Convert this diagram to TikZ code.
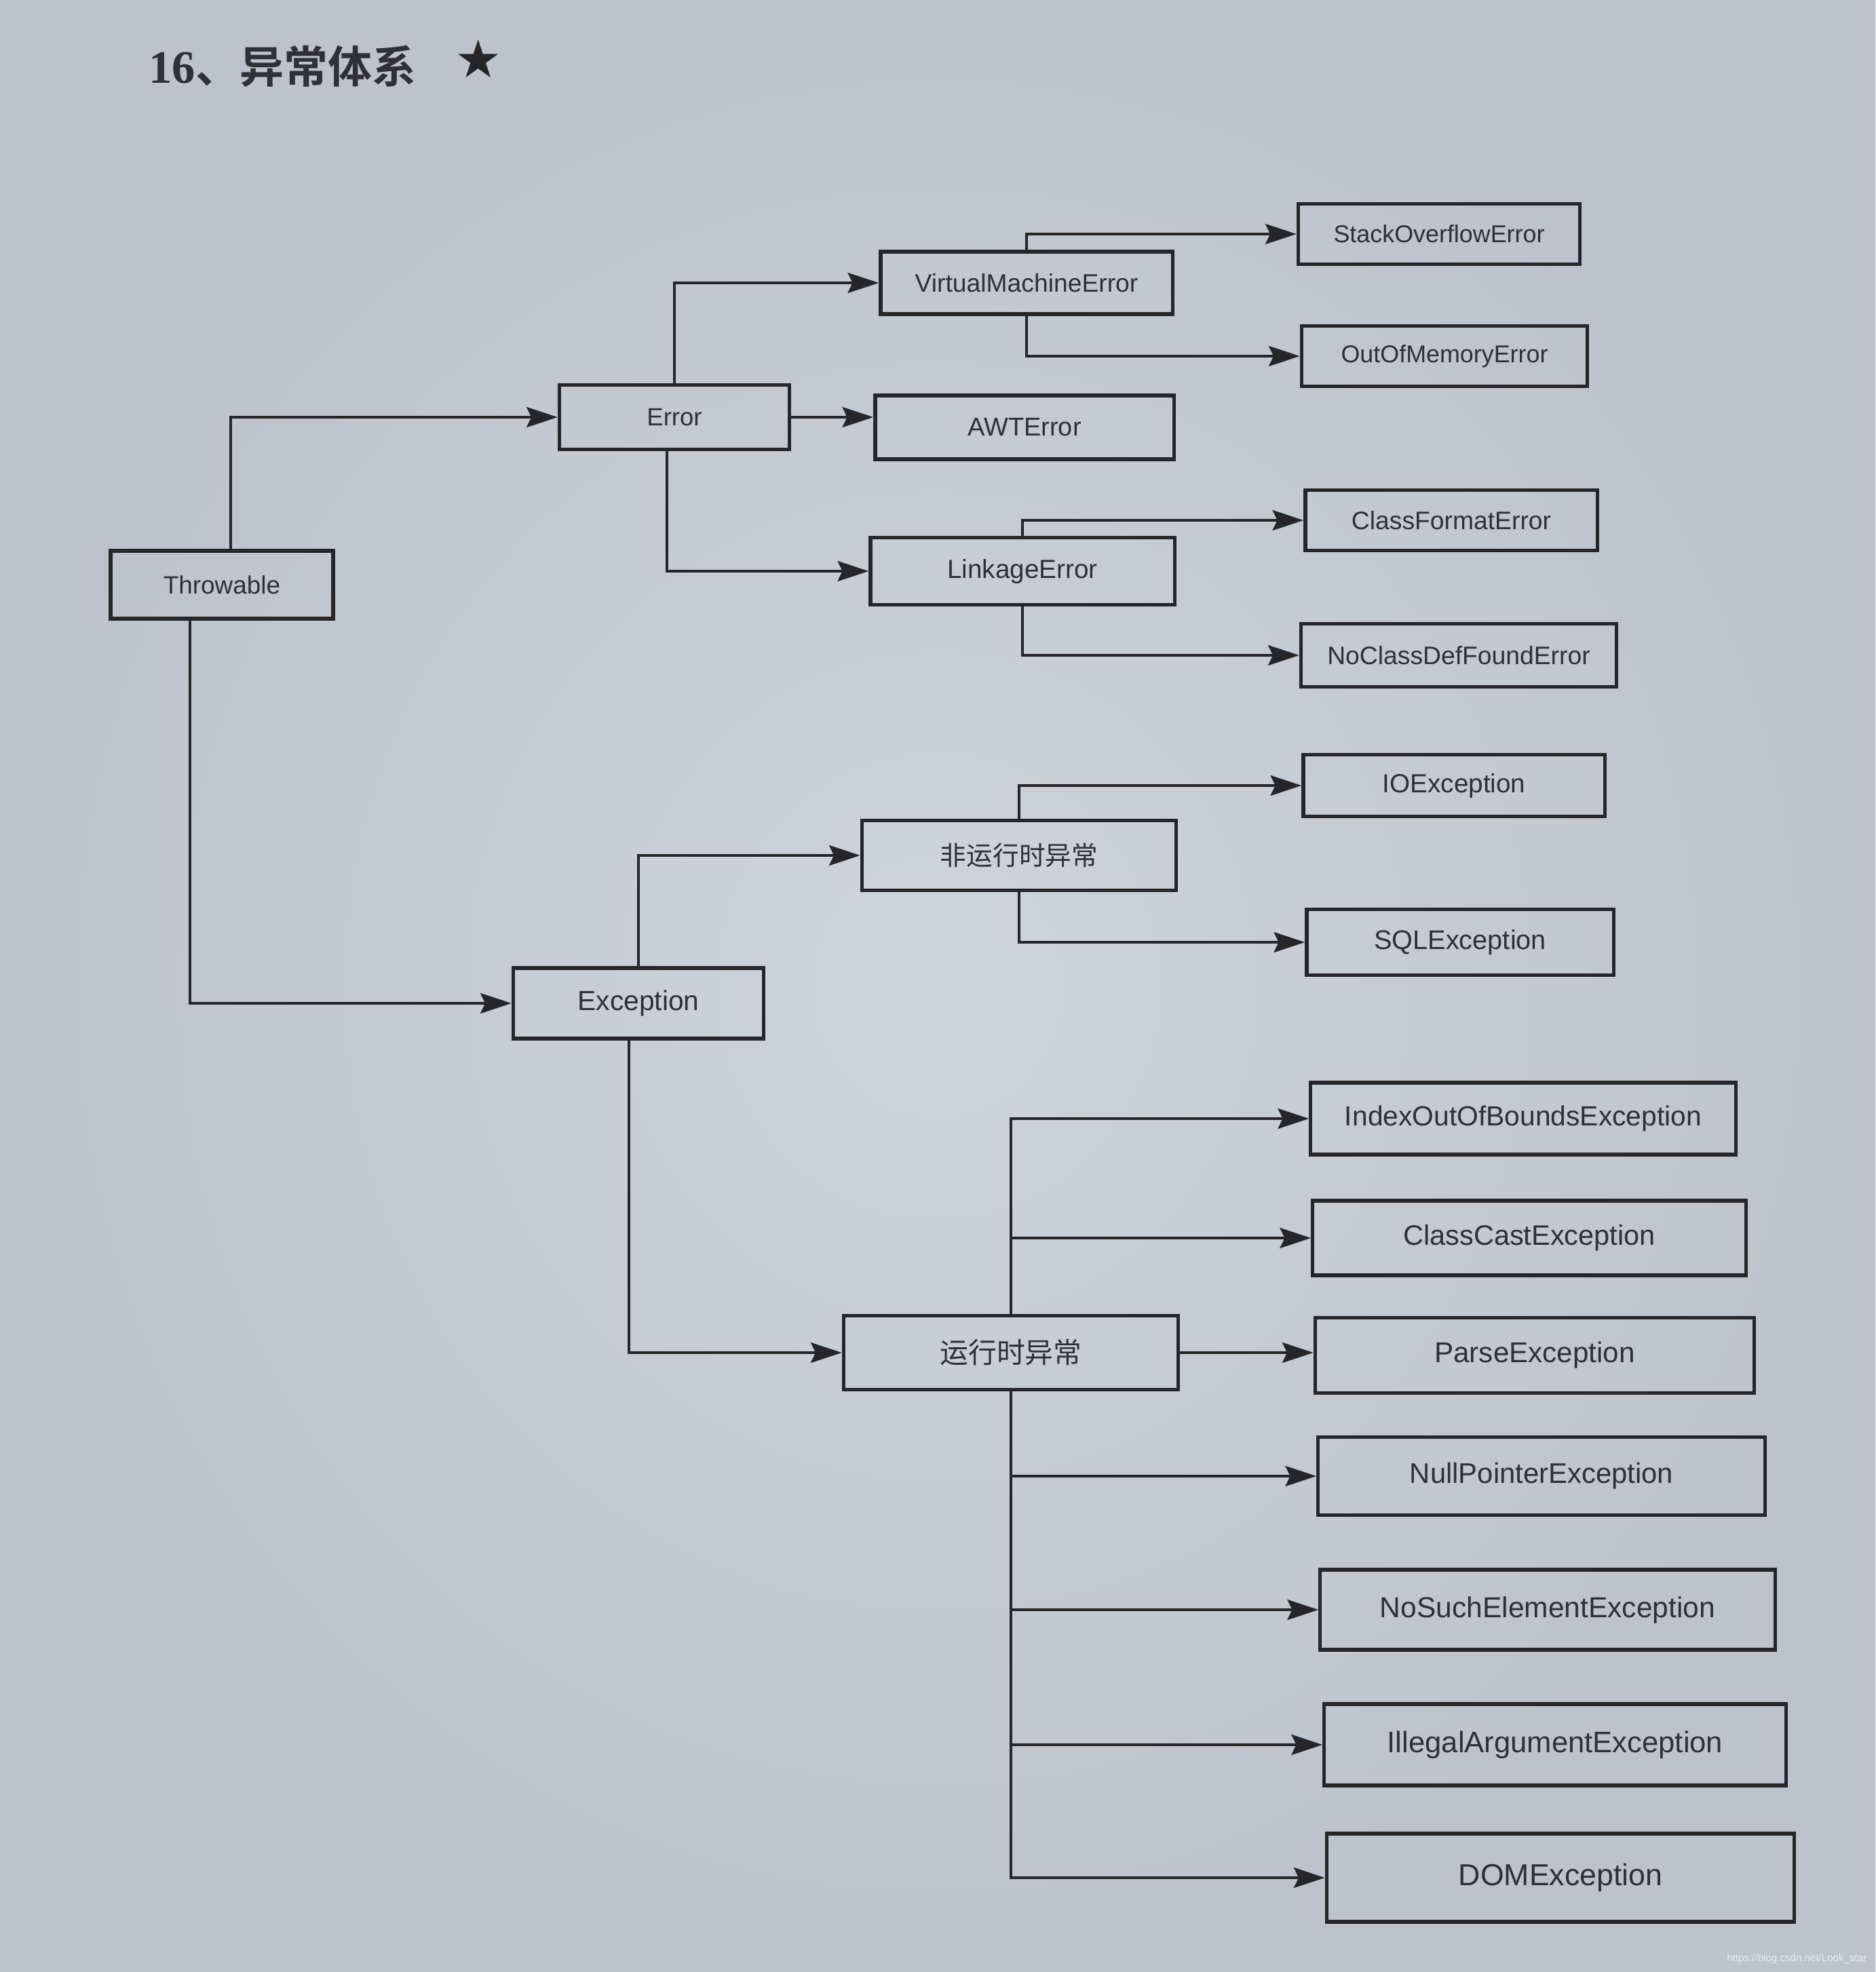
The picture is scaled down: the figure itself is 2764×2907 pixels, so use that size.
\documentclass[tikz,border=0pt]{standalone}
\usepackage{fontspec}
\setmainfont{Liberation Sans}
\newfontfamily\cjk{Noto Sans CJK SC}
\newfontfamily\cjkb{Noto Sans CJK SC Bold}
\newfontfamily\titleserif{Liberation Serif}
\newfontfamily\symf{DejaVu Sans}
\usetikzlibrary{arrows.meta}
\definecolor{paperin}{RGB}{208,212,219}
\definecolor{paperout}{RGB}{189,194,204}
\definecolor{ink}{RGB}{38,38,42}
\definecolor{txt}{RGB}{48,48,54}
\definecolor{wm}{RGB}{232,236,242}
\begin{document}
\begin{tikzpicture}[x=0.01cm,y=-0.01cm,
  box/.style={draw=ink,line width=1.5pt,inner sep=0pt,text=txt},
  fs/.style={font=\fontsize{#1}{#1}\selectfont},
  conn/.style={draw=ink,line width=1.1pt,-{Stealth[length=13pt,width=8.5pt,inset=2pt]}}]
\shade[inner color=paperin,outer color=paperout] (0,0) rectangle (2764,2907);
\useasboundingbox (0,0) rectangle (2764,2907);

% title
\node[anchor=west,text=txt,inner sep=0pt] (title) at (219,98)
  {{\titleserif\bfseries\fontsize{19.5}{20}\selectfont 16}{\cjkb\fontsize{18.5}{20}\selectfont 、异常体系}};
\node[text=ink,inner sep=0pt] (star) at (705,87) {\symf\fontsize{22}{22}\selectfont ★};

% nodes
\node[box,fs=10.5,minimum width=3.28cm,minimum height=1.00cm] (thr) at (327,862) {Throwable};
\node[box,fs=10.4,minimum width=3.39cm,minimum height=0.95cm] (err) at (994,615) {Error};
\node[box,fs=10.6,minimum width=4.30cm,minimum height=0.92cm] (vme) at (1513,417) {VirtualMachineError};
\node[box,fs=10.8,minimum width=4.40cm,minimum height=0.94cm] (awt) at (1510,630) {AWTError};
\node[box,fs=11,minimum width=4.48cm,minimum height=0.99cm] (lnk) at (1507,842) {LinkageError};
\node[box,fs=10.2,minimum width=4.15cm,minimum height=0.89cm] (soe) at (2121,345) {StackOverflowError};
\node[box,fs=10.2,minimum width=4.21cm,minimum height=0.89cm] (oom) at (2129,525) {OutOfMemoryError};
\node[box,fs=10.6,minimum width=4.30cm,minimum height=0.89cm] (cfe) at (2139,767) {ClassFormatError};
\node[box,fs=10.6,minimum width=4.65cm,minimum height=0.93cm] (ncd) at (2150,966) {NoClassDefFoundError};
\node[box,fs=11,minimum width=4.44cm,minimum height=0.91cm] (ioe) at (2143,1158) {IOException};
\node[box,fs=11,minimum width=4.63cm,minimum height=1.03cm] (non) at (1502,1261) {\cjk 非运行时异常};
\node[box,fs=11.3,minimum width=4.52cm,minimum height=0.97cm] (sql) at (2152,1389) {SQLException};
\node[box,fs=11.6,minimum width=3.69cm,minimum height=1.04cm] (exc) at (941,1479) {Exception};
\node[box,fs=11.6,minimum width=6.26cm,minimum height=1.06cm] (ioob) at (2245,1649) {IndexOutOfBoundsException};
\node[box,fs=11.8,minimum width=6.38cm,minimum height=1.10cm] (cce) at (2254,1825) {ClassCastException};
\node[box,fs=11.9,minimum width=4.93cm,minimum height=1.09cm] (run) at (1490,1994) {\cjk 运行时异常};
\node[box,fs=12,minimum width=6.47cm,minimum height=1.11cm] (par) at (2262,1998) {ParseException};
\node[box,fs=11.9,minimum width=6.58cm,minimum height=1.15cm] (npe) at (2272,2176) {NullPointerException};
\node[box,fs=12.1,minimum width=6.70cm,minimum height=1.18cm] (nse) at (2281,2373) {NoSuchElementException};
\node[box,fs=12.4,minimum width=6.80cm,minimum height=1.20cm] (iae) at (2292,2572) {IllegalArgumentException};
\node[box,fs=12.7,minimum width=6.89cm,minimum height=1.30cm] (dom) at (2300,2768) {DOMException};

% connectors
\draw[conn] ([xshift=0.13cm]thr.north) |- (err.west);
\draw[conn] ([xshift=-0.47cm]thr.south) |- (exc.west);
\draw[conn] (err.north) |- (vme.west);
\draw[conn] (err.east) -- (err.east -| awt.west);
\draw[conn] ([xshift=-0.11cm]err.south) |- (lnk.west);
\draw[conn] (vme.north) |- (soe.west);
\draw[conn] (vme.south) |- (oom.west);
\draw[conn] (lnk.north) |- (cfe.west);
\draw[conn] (lnk.south) |- (ncd.west);
\draw[conn] (exc.north) |- (non.west);
\draw[conn] ([xshift=-0.14cm]exc.south) |- (run.west);
\draw[conn] (non.north) |- (ioe.west);
\draw[conn] (non.south) |- (sql.west);
\draw[conn] (run.north) |- (ioob.west);
\draw[conn] (run.north) |- (cce.west);
\draw[conn] (run.east) -- (run.east -| par.west);
\draw[conn] (run.south) |- (npe.west);
\draw[conn] (run.south) |- (nse.west);
\draw[conn] (run.south) |- (iae.west);
\draw[conn] (run.south) |- (dom.west);

% watermark
\node[anchor=east,text=wm,inner sep=0pt,fs=4.3] (wmk) at (2752,2888) {https://blog.csdn.net/Look\_star};
\end{tikzpicture}
\end{document}
